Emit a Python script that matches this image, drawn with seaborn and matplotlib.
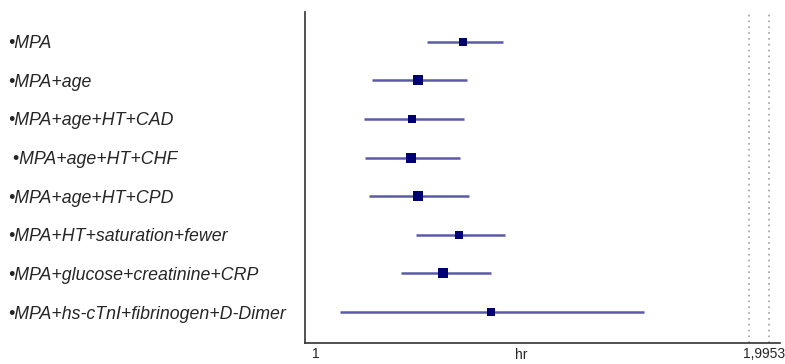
import matplotlib
matplotlib.use("Agg")
import matplotlib.pyplot as plt
import matplotlib.transforms as mtransforms
import seaborn as sns
import pandas as pd
from matplotlib.ticker import NullLocator

models = ["•MPA", "•MPA+age", "•MPA+age+HT+CAD", " •MPA+age+HT+CHF", "•MPA+age+HT+CPD",
          "•MPA+HT+saturation+fewer", "•MPA+glucose+creatinine+CRP",
          "•MPA+hs-cTnI+fibrinogen+D-Dimer"]
hr = [1.251, 1.168, 1.158, 1.156, 1.168, 1.243, 1.214, 1.306]
lower = [1.184, 1.089, 1.075, 1.078, 1.084, 1.165, 1.139, 1.037]
upper = [1.329, 1.259, 1.254, 1.246, 1.263, 1.334, 1.306, 1.650]
weight = [28, 45, 30, 42, 42, 32, 42, 30]
ref_lines = [1.935, 1.9953]
tick_vals = [1, 1.9953]
tick_labels = ["1", "1,9953"]

df = pd.DataFrame({"model": models, "hr": hr, "lower": lower, "upper": upper,
                   "w": weight, "pos": range(len(models))})

sns.set_style("white")
plt.rcParams["font.family"] = ["Liberation Sans", "DejaVu Sans"]

fig = plt.figure(figsize=(7.85, 3.64), dpi=100)
ax = fig.add_axes([0.3885, 0.0577, 0.6051, 0.9093])
ax.set_xscale("log")

for v in ref_lines:
    ax.axvline(v, color="#a0a0a0", linestyle=(0, (1, 2.5)), linewidth=1.2, zorder=1)

ax.hlines(df["pos"], df["lower"], df["upper"], color="#5a5aa8", linewidth=1.8, zorder=2)
for _, r in df.iterrows():
    ax.scatter([r["hr"]], [r["pos"]], marker="s", s=r["w"], color="#000070",
               linewidths=0, zorder=3)

ax.set_xlim(0.983, 2.03)
ax.set_ylim(7.8, -0.77)
ax.set_xticks(tick_vals)
ax.set_xticklabels(tick_labels, fontsize=10)
ax.xaxis.set_minor_locator(NullLocator())
ax.tick_params(axis="x", direction="in", length=5, width=1, color="#333333", pad=3)
last = ax.get_xticklabels()[-1]
last.set_horizontalalignment("right")
last.set_transform(last.get_transform() + mtransforms.ScaledTranslation(16 / 100, 0, fig.dpi_scale_trans))

ax.set_yticks(df["pos"])
ax.set_yticklabels(df["model"], fontsize=12.8, style="italic")
ax.tick_params(axis="y", length=0, pad=214)
for lab in ax.get_yticklabels():
    lab.set_horizontalalignment("left")

ax.set_xlabel("hr", fontsize=10)
ax.xaxis.set_label_coords(0.455, -0.014)
ax.xaxis.label.set_verticalalignment("top")

for side in ["top", "right"]:
    ax.spines[side].set_visible(False)
for side in ["left", "bottom"]:
    ax.spines[side].set_color("#333333")
    ax.spines[side].set_linewidth(1.2)

fig.savefig("out.png", dpi=100)
